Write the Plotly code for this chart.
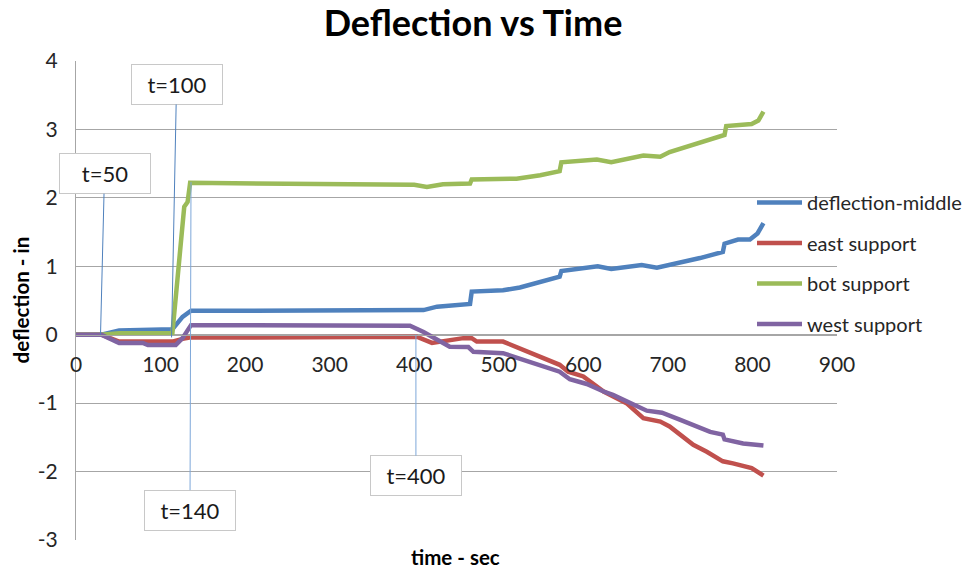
import plotly.graph_objects as go

# ---------------- data ----------------
mid_t = [0, 30, 51, 80, 114, 126, 136, 200, 300, 403, 411, 427, 442, 466, 468, 505, 525, 549, 572, 574,
         596, 617, 633, 669, 687, 706, 738, 765, 767, 783, 797, 806, 813]
mid_d = [0, 0, 0.06, 0.07, 0.08, 0.26, 0.35, 0.35, 0.35, 0.36, 0.36, 0.41, 0.43, 0.45, 0.63, 0.65, 0.69, 0.77, 0.85, 0.93,
         0.97, 1.00, 0.96, 1.02, 0.98, 1.03, 1.12, 1.21, 1.33, 1.39, 1.39, 1.48, 1.63]

east_t = [0, 30, 51, 114, 126, 134, 200, 300, 403, 421, 442, 458, 468, 474, 505, 572, 582, 600, 624, 651,
          671, 691, 702, 730, 746, 765, 777, 793, 799, 813]
east_d = [0, 0, -0.10, -0.10, -0.06, -0.04, -0.04, -0.04, -0.03, -0.12, -0.08, -0.05, -0.05, -0.10, -0.10, -0.44, -0.54, -0.61, -0.83, -1.00,
          -1.22, -1.27, -1.34, -1.61, -1.71, -1.85, -1.88, -1.94, -1.95, -2.06]

bot_t = [0, 30, 51, 114, 128, 132, 135, 200, 300, 400, 415, 434, 466, 468, 521, 549, 572, 574, 616, 633,
         671, 691, 702, 730, 767, 769, 785, 799, 807, 813]
bot_d = [0, 0, 0.02, 0.02, 1.87, 1.94, 2.22, 2.21, 2.20, 2.19, 2.16, 2.20, 2.21, 2.27, 2.28, 2.33, 2.39, 2.52, 2.56, 2.52,
         2.62, 2.60, 2.67, 2.78, 2.92, 3.05, 3.06, 3.08, 3.13, 3.26]

west_t = [0, 30, 51, 79, 85, 118, 126, 136, 200, 300, 395, 411, 430, 442, 464, 470, 505, 572, 584, 604,
          624, 635, 675, 693, 714, 750, 765, 767, 789, 813]
west_d = [0, 0, -0.12, -0.12, -0.15, -0.15, -0.05, 0.14, 0.14, 0.14, 0.13, 0.04, -0.10, -0.175, -0.18, -0.25, -0.27, -0.54, -0.65, -0.72,
          -0.83, -0.88, -1.11, -1.14, -1.24, -1.42, -1.46, -1.53, -1.59, -1.62]

series_names = ["deflection-middle", "east support", "bot support", "west support"]

x_ticks = [0, 100, 200, 300, 400, 500, 600, 700, 800, 900]
x_tick_text = ["0", "100", "200", "300", "400", "500", "600", "700", "800", "900"]
y_ticks = [-3, -2, -1, 0, 1, 2, 3, 4]
y_tick_text = ["-3", "-2", "-1", "0", "1", "2", "3", "4"]

callout_text = ["t=50", "t=100", "t=140", "t=400"]
callout_t = [29, 113, 136, 402]
callout_d = [0, -0.04, 2.23, 0]

x_range = [0, 900]
y_range = [-3, 4]

# ---------------- style ----------------
FONT = "Lato"
colors = ["#4f81bd", "#c0504d", "#9bbb59", "#8064a2"]
grid = "#a6a6a6"

fig = go.Figure()
for name, t, d, c in zip(series_names, [mid_t, east_t, bot_t, west_t],
                         [mid_d, east_d, bot_d, west_d], colors):
    fig.add_trace(go.Scatter(x=t, y=d, mode="lines", name=name, legendgroup=name,
                             line=dict(color=c, width=4.5)))

# callouts
offsets = [(4, -161), (5, -253), (-1, 328), (0, 141)]
arrow_cols = ["#4f81bd", "#4f81bd", "#7da7d9", "#7da7d9"]
for txt, t, d, (ax, ay), ac in zip(callout_text, callout_t, callout_d, offsets, arrow_cols):
    fig.add_annotation(x=t, y=d, xref="x", yref="y", text=txt, showarrow=True,
                       arrowhead=0, arrowwidth=1, arrowcolor=ac,
                       ax=ax, ay=ay, width=88, height=37,
                       bgcolor="white", bordercolor="#c8c8c8", borderwidth=1,
                       font=dict(family=FONT, size=22, color="#1a1a1a"))

# axis titles
fig.add_annotation(text="<b>time - sec</b>", xref="paper", yref="paper",
                   x=(455 - 76) / 761, y=-(557 - 540) / 479, showarrow=False,
                   xanchor="center", yanchor="middle",
                   font=dict(family=FONT, size=20.5, color="black"))
fig.add_annotation(text="<b>deflection - in</b>", xref="paper", yref="paper",
                   x=-(76 - 20) / 761, y=0.5, showarrow=False,
                   textangle=-90, xanchor="center", yanchor="middle",
                   font=dict(family=FONT, size=20.5, color="black"))

fig.update_layout(
    width=969, height=573,
    margin=dict(l=76, r=132, t=61, b=33, autoexpand=False),
    paper_bgcolor="white", plot_bgcolor="white",
    font=dict(family=FONT, size=21, color="#262626"),
    title=dict(text="<b>Deflection vs Time</b>", x=(473 - 76) / 761, xref="paper",
               y=1 - 23 / 573, yref="container", xanchor="center", yanchor="middle",
               font=dict(family=FONT, size=36, color="black")),
    legend=dict(x=(752 - 76) / 761, xanchor="left", y=(540 - 183) / 479, yanchor="top",
                bgcolor="rgba(0,0,0,0)", tracegroupgap=11.5, itemwidth=45,
                font=dict(family=FONT, size=20, color="#262626")),
    showlegend=True,
)
fig.update_xaxes(range=x_range, tickvals=x_ticks, ticktext=x_tick_text,
                 anchor="free", position=(0 - y_range[0]) / (y_range[1] - y_range[0]),
                 showgrid=False, zeroline=False, showline=True, linecolor=grid, linewidth=1,
                 ticks="", ticklabelstandoff=11)
fig.update_yaxes(range=y_range, tickvals=y_ticks, ticktext=y_tick_text,
                 showgrid=True, gridcolor=grid, gridwidth=1, zeroline=False,
                 showline=True, linecolor=grid, linewidth=1, ticks="", ticklabelstandoff=13)

fig.write_html("out.html", post_script="document.body.style.margin='0';",
               config={"displayModeBar": False})
